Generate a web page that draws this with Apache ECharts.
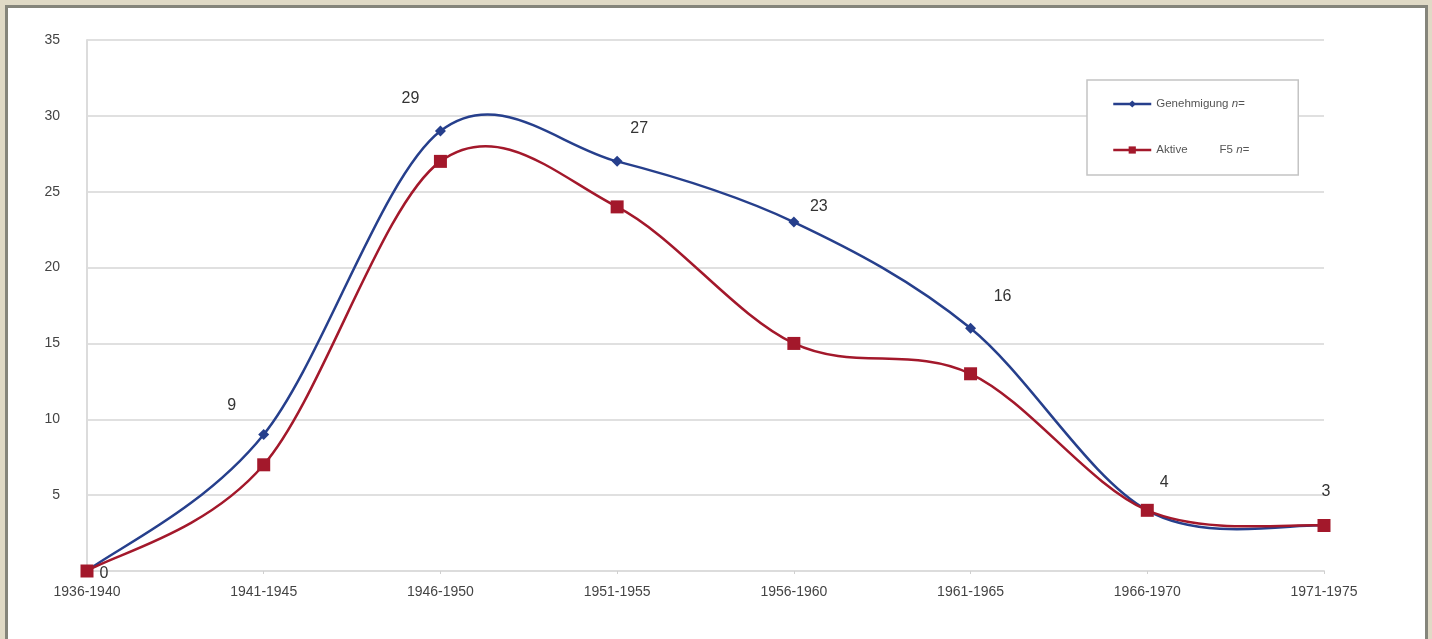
<!DOCTYPE html>
<html>
<head>
<meta charset="utf-8">
<script src="https://cdn.jsdelivr.net/npm/echarts@6/dist/echarts.min.js"></script>
<style>
  html, body { margin: 0; padding: 0; width: 1432px; height: 639px; overflow: hidden; background: #e0dac6; }
  #panel { position: absolute; left: 5px; top: 5px; width: 1417px; height: 660px; background: #ffffff;
           border-left: 3px solid #85857b; border-top: 3px solid #85857b; border-right: 3px solid #85857b; }
  #chart { position: absolute; left: 0; top: 0; width: 1432px; height: 639px; }
</style>
</head>
<body>
<div id="panel"></div>
<div id="chart"></div>
<script>
// Five-year periods
const periods = ['1936-1940', '1941-1945', '1946-1950', '1951-1955', '1956-1960', '1961-1965', '1966-1970', '1971-1975'];
// Genehmigung n=
const genehmigung = [0, 9, 29, 27, 23, 16, 4, 3];
// Aktive F5 n=
const aktive = [0, 7, 27, 24, 15, 13, 4, 3];
// Value axis ticks
const yTicks = [0, 5, 10, 15, 20, 25, 30, 35];

// where each value label sits relative to its point
const labelShift = [[17, 21], [-32, -10], [-30, -14], [22, -14], [25, 3], [32, -13], [17, -9], [2, -15]];

const blue = '#263f8c';
const red = '#a3182b';

// Cardinal (Catmull-Rom) spline through the projected points, the way
// spreadsheet charts smooth their lines (allows overshoot between points).
function splineSeries(name, values, color, z) {
  return {
    name: name + '-curve', type: 'custom', z: z, silent: true, clip: false,
    data: values.map((v, i) => [i, v]),
    encode: { x: 0, y: 1 },
    renderItem: function (params, api) {
      if (params.dataIndex !== 0) return null;
      const p = values.map((v, i) => api.coord([i, v]));
      const n = p.length;
      const tan = p.map((pt, i) => {
        const a = p[Math.max(i - 1, 0)], b = p[Math.min(i + 1, n - 1)];
        return [(b[0] - a[0]) / 2, (b[1] - a[1]) / 2];
      });
      let d = 'M' + p[0][0] + ' ' + p[0][1];
      for (let i = 0; i < n - 1; i++) {
        const c1 = [p[i][0] + tan[i][0] / 3, p[i][1] + tan[i][1] / 3];
        const c2 = [p[i + 1][0] - tan[i + 1][0] / 3, p[i + 1][1] - tan[i + 1][1] / 3];
        d += ' C' + c1[0] + ' ' + c1[1] + ' ' + c2[0] + ' ' + c2[1] + ' ' + p[i + 1][0] + ' ' + p[i + 1][1];
      }
      return {
        type: 'path',
        shape: { pathData: d },
        style: { stroke: color, lineWidth: 2.5, fill: null, lineJoin: 'round' }
      };
    }
  };
}

const chart = echarts.init(document.getElementById('chart'), null, { renderer: 'canvas' });
chart.setOption({
  backgroundColor: 'transparent',
  animation: false,
  textStyle: { fontFamily: '"Liberation Sans", Arial, sans-serif' },
  grid: { left: 87, right: 108, top: 40, bottom: 68, containLabel: false },
  legend: {
    left: 1087, top: 80, orient: 'vertical',
    backgroundColor: '#ffffff', borderColor: '#c4c4c4', borderWidth: 1.5,
    padding: [18, 49, 19, 25], itemGap: 34, itemWidth: 38, itemHeight: 9,
    data: [
      { name: 'Genehmigung', lineStyle: { color: blue, width: 2.5, opacity: 1 } },
      { name: 'Aktive', lineStyle: { color: red, width: 2.5, opacity: 1 } }
    ],
    formatter: function (name) {
      return name === 'Genehmigung' ? 'Genehmigung {i|n=}' : 'Aktive          F5 {i|n=}';
    },
    textStyle: {
      fontSize: 11.5, color: '#555',
      rich: { i: { fontSize: 11.5, fontStyle: 'italic', color: '#555' } }
    }
  },
  xAxis: {
    type: 'category', data: periods, boundaryGap: false,
    axisLine: { lineStyle: { color: '#dcdcdc', width: 2 } },
    axisTick: { show: true, alignWithLabel: true, length: 3, lineStyle: { color: '#d0d0d0' } },
    axisLabel: { color: '#444', fontSize: 14, margin: 14, interval: 0 },
    splitLine: { show: false }
  },
  yAxis: {
    type: 'value', min: yTicks[0], max: yTicks[yTicks.length - 1], interval: 5,
    axisLine: { show: true, lineStyle: { color: '#dcdcdc', width: 2 } },
    axisTick: { show: false },
    axisLabel: { color: '#444', fontSize: 14, margin: 27, formatter: v => (v === 0 ? '' : String(v)) },
    splitLine: { lineStyle: { color: '#e0e0e0', width: 2 } }
  },
  series: [
    splineSeries('Genehmigung', genehmigung, blue, 2),
    {
      name: 'Genehmigung', type: 'line', z: 3,
      data: genehmigung.map((v, i) => ({
        value: v,
        label: { show: true, position: 'top', offset: labelShift[i], formatter: '{c}', fontSize: 16, color: '#333' }
      })),
      symbol: 'diamond', symbolSize: 11,
      lineStyle: { color: blue, width: 2.5, opacity: 0 },
      itemStyle: { color: blue }
    },
    splineSeries('Aktive', aktive, red, 4),
    {
      name: 'Aktive', type: 'line', z: 5,
      data: aktive,
      symbol: 'rect', symbolSize: 13,
      lineStyle: { color: red, width: 2.5, opacity: 0 },
      itemStyle: { color: red }
    }
  ]
});
</script>
</body>
</html>
